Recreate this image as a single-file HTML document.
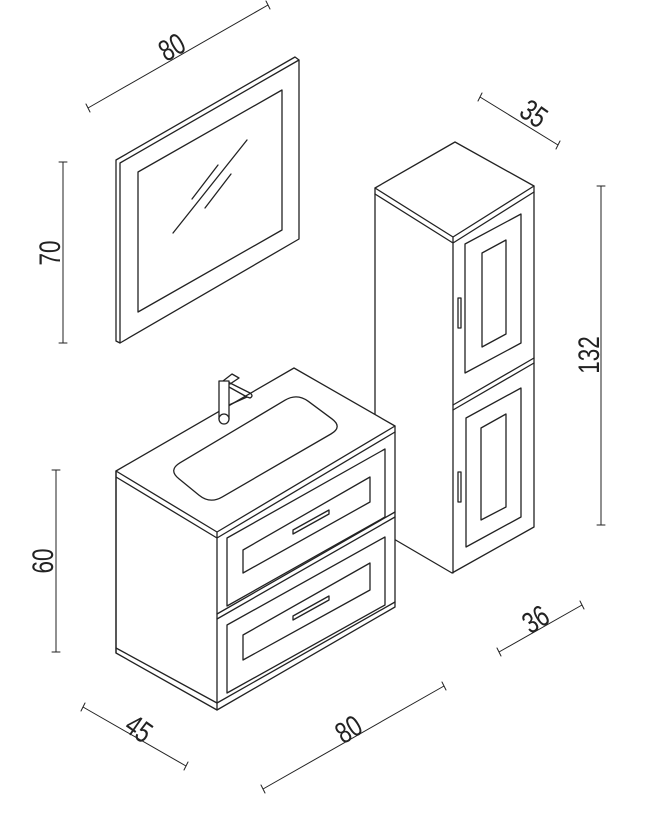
<!DOCTYPE html>
<html><head><meta charset="utf-8"><style>
html,body{margin:0;padding:0;background:#fff}
svg{display:block}
text{font-family:"Liberation Sans Narrow","Liberation Sans",sans-serif;font-size:30px;fill:#222}
</style></head><body>
<svg width="653" height="821" viewBox="0 0 653 821" xmlns="http://www.w3.org/2000/svg">
<g fill="none" stroke="#222" stroke-width="1.3" stroke-linejoin="round" stroke-linecap="round">
<!-- Mirror -->
<path d="M116,160 L295,57 L299,60 L299,239 L120,343 L116,341 Z" fill="#fff"/>
<path d="M120,163 L299,60 M120,163 L120,343"/>
<path d="M138,172 L282,90 L282,230 L138,312 Z"/>
<path d="M173,233 L247,140 M192,199 L218,165 M205,208 L231,174"/>

<!-- Column -->
<path d="M375,188 L455,142 L534,186 L534,527 L452,573 L399,542 L375,528 L375,188 Z" fill="#fff"/>
<path d="M375,188 L453,237 L534,186 M375,194 L453,243 L534,192 M453,237 L453,573"/>
<path d="M453,405 L534,358 M453,410 L534,363"/>
<path d="M465,244 L521,214 L521,343 L465,373 Z"/>
<path d="M482,253 L506,240 L506,334 L482,347 Z"/>
<path d="M466,418 L521,388 L521,517 L466,547 Z"/>
<path d="M481,428 L506,414 L506,507 L481,520 Z"/>
<rect x="458" y="298" width="3" height="30"/>
<rect x="458" y="472" width="3" height="30"/>

<!-- Vanity -->
<path d="M116,471 L294,368 L395,426 L395,607 L217,710 L116,653 Z" fill="#fff"/>
<path d="M116,471 L217,532 L395,426 M116,477 L217,538 L395,432 M116,471 L116,653 M217,532 L217,710"/>
<path d="M116,648 L217,703 L395,602"/>
<path d="M217,614 L395,512 M217,619 L395,517"/>
<path d="M227,538 L385,449 L385,517 L227,606 Z"/>
<path d="M243,550 L370,477 L370,502 L243,573 Z"/>
<path d="M293,530 L329,510 L329,514 L293,534 Z"/>
<path d="M227,625 L385,537 L385,605 L227,693 Z"/>
<path d="M243,635 L370,563 L370,590 L243,660 Z"/>
<path d="M293,616 L329,596 L329,600 L293,620 Z"/>
<path d="M180,462.8 L285,400.2 Q297,393 308.3,401.3 L331.7,418.7 Q343,427 330.9,434 L222.1,497 Q210,504 199.1,495.2 L178.9,478.8 Q168,470 180,462.8 Z"/>
<!-- faucet -->
<path d="M223,381 L232,374 L239,378 L230,384"/>
<path d="M228,382 L250,393 Q254,396 250,398 L247,397 L229,387"/>
<path d="M229,405 L247,397"/>
<rect x="219" y="381" width="10" height="38" fill="#fff"/>
<circle cx="224" cy="419" r="5" fill="#fff"/>

<!-- dimension lines -->
<g stroke-width="1">
<path d="M88,108 L268,5 M86,104 L90,112 M266,1 L270,9"/>
<path d="M63,162 L63,343 M59,162 L67,162 M59,343 L67,343"/>
<path d="M56,470 L56,652 M52,470 L60,470 M52,652 L60,652"/>
<path d="M83,707 L186,766 M85,703 L81,711 M188,762 L184,770"/>
<path d="M263,789 L444,686 M261,785 L265,793 M442,682 L446,690"/>
<path d="M499,652 L582,605 M497,648 L501,656 M580,601 L584,609"/>
<path d="M480,97 L558,145 M482,93 L478,101 M560,141 L556,149"/>
<path d="M601,186 L601,525 M597,186 L605,186 M597,525 L605,525"/>
</g>
</g>
<g>
<text transform="translate(177,56) rotate(-30) scale(0.75,1)" text-anchor="middle">80</text>
<text transform="translate(60,253) rotate(-90) scale(0.75,1)" text-anchor="middle">70</text>
<text transform="translate(53,561) rotate(-90) scale(0.75,1)" text-anchor="middle">60</text>
<text transform="translate(133,737) rotate(35) scale(0.75,1)" text-anchor="middle">45</text>
<text transform="translate(354,738) rotate(-32) scale(0.75,1)" text-anchor="middle">80</text>
<text transform="translate(541,628) rotate(-32) scale(0.75,1)" text-anchor="middle">36</text>
<text transform="translate(528,122) rotate(35) scale(0.75,1)" text-anchor="middle">35</text>
<text transform="translate(599,355) rotate(-90) scale(0.75,1)" text-anchor="middle">132</text>
</g>
</svg>
</body></html>
